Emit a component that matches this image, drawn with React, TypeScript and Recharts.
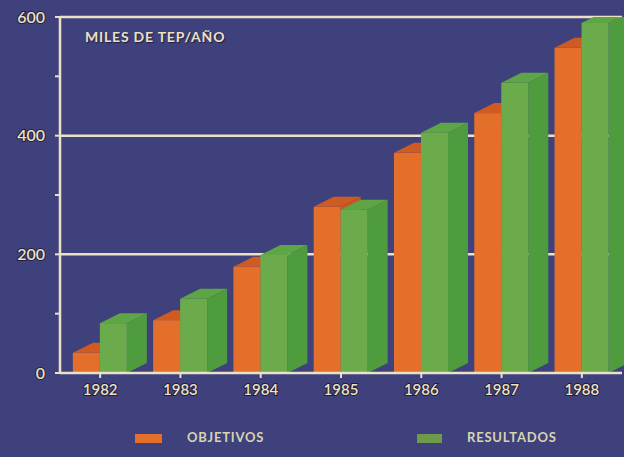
import { Bar, BarChart, CartesianGrid, Legend, XAxis, YAxis } from "recharts";

const years = ["1982", "1983", "1984", "1985", "1986", "1987", "1988"];
const objetivos = [34, 89, 179, 280, 371, 438, 548];
const resultados = [84, 125, 199, 275, 405, 489, 590];
const yTicks = [0, 100, 200, 300, 400, 500, 600];
const gridValues = [200, 400, 600];

const data = years.map((year, i) => ({
    year,
    objetivos: objetivos[i],
    resultados: resultados[i],
}));

const bg = "#3f417d";
const cream = "#ebe1c6";
const textShadow = "#221d3a";

function make3DBar(front: string, side: string, top: string) {
    return (props: any) => {
        const { x, y, width, height } = props;
        if (height <= 0) return <g />;
        const dx = 20;
        const dy = 10;
        const bottom = y + height;
        return (
            <g>
                <polygon
                    points={`${x + width},${y} ${x + width + dx},${y - dy} ${x + width + dx},${bottom - dy} ${x + width},${bottom}`}
                    fill={side}
                />
                <polygon
                    points={`${x},${y} ${x + dx},${y - dy} ${x + width + dx},${y - dy} ${x + width},${y}`}
                    fill={top}
                />
                <rect x={x} y={y} width={width} height={height} fill={front} />
            </g>
        );
    };
}

function LegendContent() {
    const items = [
        { label: "OBJETIVOS", color: "#e36f2b", sx: 135, tx: 187, w: 27 },
        { label: "RESULTADOS", color: "#6f9a4a", sx: 417, tx: 467, w: 25 },
    ];
    return (
        <div style={{ position: "relative", width: 624, height: 20 }}>
            {items.map((it) => (
                <div key={it.label}>
                    <div
                        style={{
                            position: "absolute",
                            left: it.sx,
                            top: 6,
                            width: it.w,
                            height: 9,
                            background: it.color,
                        }}
                    />
                    <div
                        style={{
                            position: "absolute",
                            left: it.tx,
                            top: 1,
                            fontSize: 13,
                            fontFamily: "Lato",
                            fontWeight: 700,
                            color: "#d9d3b0",
                            letterSpacing: 0.8,
                        }}
                    >
                        {it.label}
                    </div>
                </div>
            ))}
        </div>
    );
}

export default function App() {
    const tickStyle = {
        fill: cream,
        fontSize: 16,
        fontFamily: "Lato",
        fontWeight: 600,
        stroke: textShadow,
        strokeWidth: 2,
        paintOrder: "stroke",
    } as any;
    return (
        <div style={{ position: "absolute", left: 0, top: 0, width: 624, height: 457, background: bg }}>
            <BarChart
                width={624}
                height={457}
                data={data}
                margin={{ top: 17, right: 2, left: 0, bottom: 54 }}
                barCategoryGap="16%"
                barGap={0}
            >
                <CartesianGrid
                    vertical={false}
                    horizontalValues={gridValues}
                    stroke={cream}
                    strokeWidth={2.5}
                />
                <XAxis
                    dataKey="year"
                    axisLine={{ stroke: cream, strokeWidth: 2.5 }}
                    tickLine={{ stroke: cream, strokeWidth: 2 }}
                    tickSize={5}
                    tickMargin={6}
                    tick={{ ...tickStyle, fontSize: 15 }}
                    height={30}
                />
                <YAxis
                    domain={[0, 600]}
                    ticks={yTicks}
                    width={60}
                    axisLine={{ stroke: cream, strokeWidth: 2.5 }}
                    tickLine={{ stroke: cream, strokeWidth: 2 }}
                    tickSize={5}
                    tickMargin={10}
                    tick={tickStyle}
                    tickFormatter={(v: number) => (v % 200 === 0 ? String(v) : "")}
                    allowDataOverflow
                />
                <Legend
                    verticalAlign="middle"
                    layout="horizontal"
                    content={<LegendContent />}
                    wrapperStyle={{ top: 428, left: 0, width: 624 }}
                />
                <Bar
                    dataKey="objetivos"
                    name="OBJETIVOS"
                    fill="#e36f2b"
                    isAnimationActive={false}
                    shape={make3DBar("#e36f2b", "#c9551f", "#cf5a22")}
                />
                <Bar
                    dataKey="resultados"
                    name="RESULTADOS"
                    fill="#6cab4c"
                    isAnimationActive={false}
                    shape={make3DBar("#6cab4c", "#4f9c3e", "#5ea645")}
                />
            </BarChart>
            <div
                style={{
                    position: "absolute",
                    left: 85,
                    top: 28,
                    fontSize: 14,
                    fontFamily: "Lato",
                    fontWeight: 700,
                    color: cream,
                    textShadow: `1px 1px 1px ${textShadow}`,
                    letterSpacing: 0.8,
                }}
            >
                MILES DE TEP/AÑO
            </div>
        </div>
    );
}
